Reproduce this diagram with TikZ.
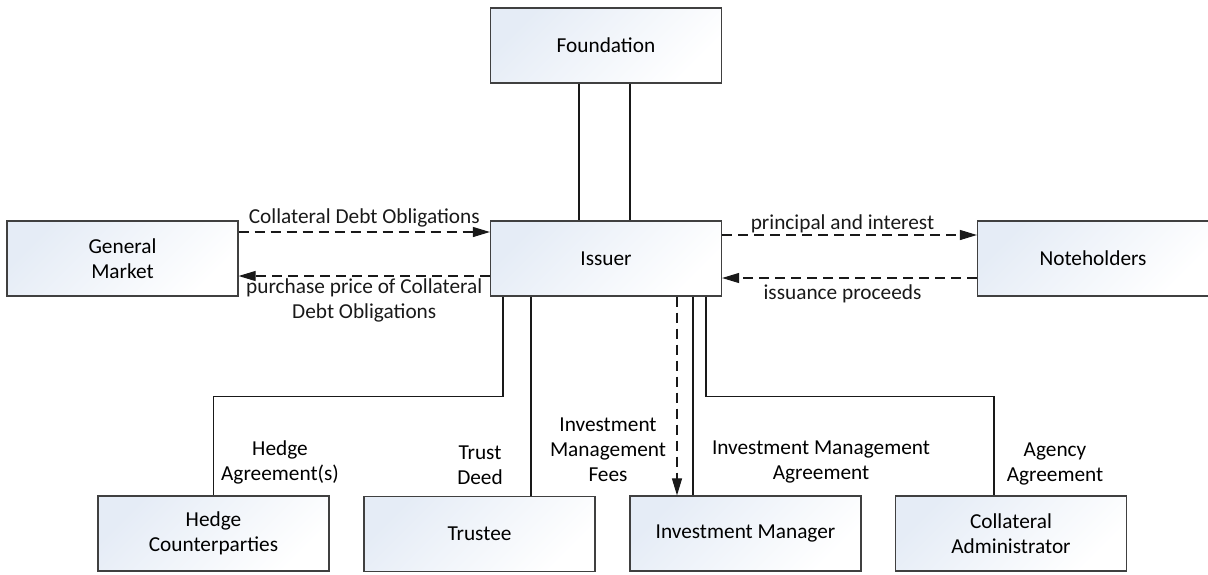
\documentclass[tikz,border=0pt]{standalone}
\usepackage{fontspec}
\setmainfont{Carlito}
\usetikzlibrary{arrows.meta,positioning,calc}
\definecolor{boxblue}{RGB}{229,236,246}
\definecolor{boxline}{RGB}{64,64,64}

\begin{document}
\begin{tikzpicture}[
  x=1pt,y=-1pt,
  font=\fontsize{21.3}{25}\selectfont,
  party/.style={draw=boxline,line width=1.2pt,minimum width=231pt,minimum height=75pt,align=center,
    top color=boxblue,bottom color=white,shading angle=45},
  link/.style={line width=1.1pt,black!90},
  flow/.style={-{Triangle[length=17pt,width=10pt]},line width=1.1pt,black!90,dash pattern=on 10pt off 6pt},
  lbl/.style={align=center,inner sep=1pt}
]
\useasboundingbox (0,0) rectangle (1208,574);

\node[party] (found)       at (606,45.5)    {Foundation};
\node[party] (issuer)      at (606,258.5)   {Issuer};
\node[party] (market)      at (122.5,258.5) {General\\Market};
\node[party] (noteholders) at (1093,258.5)  {Noteholders};
\node[party] (hedge)       at (213.5,533.5) {Hedge\\Counterparties};
\node[party] (trustee)     at (479.5,534)   {Trustee};
\node[party] (manager)     at (745.5,533.5) {Investment Manager};
\node[party] (admin)       at (1011,533.5)  {Collateral\\Administrator};

% foundation - issuer
\coordinate (f1) at ([xshift=-27pt]found.south);
\coordinate (f2) at ([xshift=24pt]found.south);
\draw[link] (f1) -- (f1 |- issuer.north);
\draw[link] (f2) -- (f2 |- issuer.north);

% issuer - market / noteholders
\draw[flow] ([yshift=26.5pt]market.east) -- node[lbl,above=3pt]{Collateral Debt Obligations} ([yshift=26.5pt]issuer.west);
\draw[flow] ([yshift=-17.5pt]issuer.west) -- node[lbl,below=1pt]{purchase price of Collateral\\Debt Obligations} ([yshift=-17.5pt]market.east);
\draw[flow] ([yshift=23.5pt]issuer.east) -- node[lbl,above=1pt,xshift=-7pt]{principal and interest} ([yshift=23.5pt]noteholders.west);
\draw[flow] ([yshift=-19.5pt]noteholders.west) -- node[lbl,below=5pt,xshift=-7pt]{issuance proceeds} ([yshift=-19.5pt]issuer.east);

% issuer - parties below
\coordinate (h1) at ([xshift=-103pt]issuer.south);
\coordinate (t1) at ([xshift=-75pt]issuer.south);
\coordinate (m1) at ([xshift=71pt]issuer.south);
\coordinate (m2) at ([xshift=87pt]issuer.south);
\coordinate (a1) at ([xshift=100pt]issuer.south);
\draw[link] (h1) -- ++(0,100) -| (hedge.north);
\draw[link] (t1) -- (t1 |- trustee.north);
\draw[flow] (m1) -- (m1 |- manager.north);
\draw[link] (m2) -- (m2 |- manager.north);
\draw[link] (a1) -- ++(0,100) -| ([xshift=-17pt]admin.north);

\node[lbl] (hedgelbl)  at (280,462)  {Hedge\\Agreement(s)};
\node[lbl] (deedlbl)   at (480,465)  {Trust\\Deed};
\node[lbl] (feeslbl)   at (608,450)  {Investment\\Management\\Fees};
\node[lbl] (imalbl)    at (821,462)  {Investment Management\\Agreement};
\node[lbl] (agencylbl) at (1055,464) {Agency\\Agreement};
\end{tikzpicture}
\end{document}
